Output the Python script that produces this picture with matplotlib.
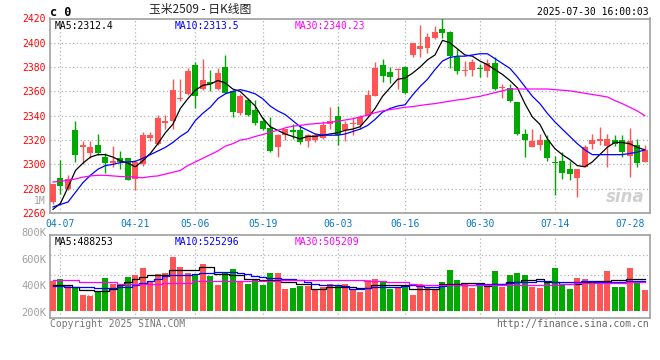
import numpy as np
import matplotlib
matplotlib.use('Agg')
import matplotlib.pyplot as plt

# daily candles 04-03 .. 07-30
opens = [2269, 2289, 2280, 2328, 2314, 2309, 2316, 2306, 2301, 2305,
         2305, 2288, 2300, 2322, 2317, 2334, 2336, 2354, 2358, 2382,
         2362, 2368, 2362, 2380, 2360, 2342, 2353, 2345, 2336, 2330,
         2314, 2324, 2328, 2328, 2319, 2320, 2322, 2333, 2340, 2328,
         2333, 2332, 2340, 2356, 2382, 2376, 2377.5, 2380, 2390, 2395,
         2396, 2404, 2411, 2409, 2388, 2377, 2378, 2379.5, 2377, 2383,
         2363, 2363, 2351, 2325, 2314, 2316, 2320, 2302, 2303, 2296,
         2289, 2298, 2317, 2319, 2315, 2320, 2320, 2307, 2316, 2302]
closes = [2284, 2282, 2288, 2308, 2316, 2314, 2309, 2301, 2303, 2302,
          2287, 2302, 2324, 2324, 2338, 2336, 2361, 2355, 2377, 2356,
          2369, 2366, 2375, 2359, 2343, 2356, 2341, 2334, 2329, 2311,
          2324, 2329, 2327, 2318, 2324, 2324, 2332, 2336, 2324, 2333,
          2334, 2339, 2357, 2379, 2373, 2372, 2378.5, 2359, 2400, 2397,
          2405, 2409, 2408, 2389, 2377, 2378, 2384, 2378.5, 2383, 2362,
          2364, 2352, 2325, 2320, 2319, 2320, 2305, 2301, 2293, 2292,
          2296, 2314, 2320, 2321, 2321, 2317, 2310, 2319, 2301, 2312]
highs = [2284, 2304, 2291, 2336, 2319, 2319, 2325, 2309, 2315, 2311,
         2305, 2303, 2327, 2327, 2341, 2341, 2370, 2370, 2379, 2384,
         2387, 2378, 2379, 2390, 2361, 2358, 2355, 2353, 2339, 2339,
         2325, 2329, 2333, 2332, 2325, 2326, 2336, 2347, 2348, 2336,
         2339, 2341, 2361, 2384, 2387, 2380, 2379, 2381, 2400, 2415,
         2408, 2414, 2420, 2410, 2395, 2385, 2387, 2382.5, 2387, 2388,
         2366, 2366, 2351, 2329, 2329, 2325, 2324, 2307, 2310, 2303,
         2296, 2316, 2325, 2331, 2325, 2324, 2324, 2330, 2321, 2316]
lows = [2267, 2276, 2279, 2302, 2300, 2305, 2308, 2293, 2298, 2296,
        2287, 2279, 2299, 2319, 2316, 2329, 2329, 2352, 2357, 2346,
        2361, 2360, 2361, 2359, 2339, 2341, 2340, 2332, 2328, 2310,
        2306, 2320, 2321, 2317, 2314, 2318, 2321, 2329, 2316, 2319,
        2324, 2329, 2340, 2356, 2368, 2367, 2362, 2358, 2388, 2388,
        2392, 2403, 2404, 2379, 2374, 2373, 2373, 2372, 2372, 2361,
        2355, 2351, 2324, 2306, 2314, 2312, 2303, 2275, 2288, 2287,
        2273, 2298, 2313, 2316, 2298, 2315, 2306, 2290, 2298, 2302]

# moving averages
ma5 = [2263, 2268, 2281, 2295, 2301, 2306, 2308, 2308, 2306, 2303,
       2301, 2298, 2303, 2309, 2317, 2326, 2333, 2346, 2354, 2361,
       2365, 2366, 2369, 2367, 2362, 2360, 2354, 2348, 2338, 2331,
       2328, 2325, 2323, 2321, 2323, 2323, 2324, 2325, 2326, 2328,
       2329, 2331, 2338, 2346, 2356, 2363, 2370, 2371, 2375, 2380,
       2386, 2390, 2402, 2400, 2395, 2390, 2389, 2385, 2382, 2378,
       2374, 2369, 2363, 2350, 2339, 2333, 2321, 2313, 2308, 2304,
       2299, 2298, 2302, 2308, 2314, 2318, 2318, 2317, 2314, 2312]
ma10 = [2265, 2267, 2269, 2277, 2285, 2291, 2296, 2299, 2300, 2301.5,
        2302, 2302.5, 2305, 2308, 2311, 2314, 2318, 2323, 2327, 2336,
        2342, 2347, 2354, 2358, 2360, 2361.5, 2360, 2358, 2354, 2348,
        2344, 2341, 2336, 2331, 2328, 2325, 2324, 2324, 2324, 2325,
        2327, 2329, 2332, 2337, 2343, 2346, 2348, 2349, 2357, 2364,
        2370, 2378, 2385, 2388, 2389, 2389, 2390, 2391, 2391, 2387,
        2383, 2379, 2372, 2364, 2356, 2350, 2342, 2335, 2329, 2323,
        2317, 2312, 2308, 2308, 2308, 2308, 2308, 2309, 2310, 2312]
ma30 = [2285.5, 2286, 2287, 2288, 2289.5, 2290.5, 2291, 2291, 2290.5, 2290,
        2290, 2289.5, 2289, 2290, 2290.5, 2292, 2293.5, 2295, 2299, 2302,
        2305, 2308, 2311, 2315, 2317, 2320, 2321, 2323, 2324.5, 2326.5,
        2328, 2330, 2331.5, 2332, 2333, 2333.5, 2334, 2334.5, 2335.5, 2336.5,
        2337.5, 2339, 2340.5, 2342.5, 2344, 2345, 2346, 2347, 2347.5, 2348.5,
        2349.3, 2350, 2351, 2352, 2353, 2353.7, 2355, 2356, 2357.5, 2359,
        2360.5, 2362, 2362, 2362, 2362, 2362, 2362, 2361.5, 2361, 2360.5,
        2359.5, 2358.5, 2357.5, 2356.5, 2355.5, 2352.5, 2350, 2347, 2344, 2340]

# volume (thousands)
volumes = [439, 452, 404, 389, 335, 329, 363, 463, 420, 404,
           470, 485, 537, 439, 492, 500, 620, 546, 500, 485,
           568, 478, 410, 507, 529, 434, 420, 454, 409, 502,
           502, 382, 389, 404, 404, 377, 395, 414, 407, 414,
           382, 357, 445, 452, 437, 382, 387, 407, 332, 419,
           387, 377, 432, 519, 445, 424, 387, 412, 402, 514,
           394, 482, 499, 482, 394, 387, 437, 537, 412, 379,
           462, 454, 439, 442, 514, 394, 394, 539, 432, 374]
vma5 = [407, 407, 407, 394, 369, 369, 362, 362, 382, 407,
        432, 457, 470, 487, 487, 487, 519, 519, 519, 519,
        544, 544, 494, 494, 482, 482, 457, 457, 444, 444,
        444, 432, 432, 419, 419, 382, 382, 394, 394, 394,
        394, 387, 387, 407, 407, 407, 407, 407, 382, 382,
        382, 382, 419, 419, 419, 427, 427, 427, 402, 419,
        419, 432, 432, 449, 449, 457, 432, 432, 419, 419,
        419, 432, 432, 437, 437, 444, 444, 452, 452, 457]
vma10 = [399, 399, 397, 394, 394, 394, 387, 387, 390, 394,
         394, 407, 425, 440, 457, 475, 482, 482, 488, 494,
         498, 502, 505, 507, 507, 500, 494, 475, 466, 462,
         462, 455, 452, 445, 432, 415, 407, 407, 407, 400,
         382, 382, 390, 394, 394, 394, 394, 405, 412, 405,
         394, 394, 402, 407, 407, 407, 410, 414, 414, 417,
         419, 422, 432, 432, 435, 437, 437, 432, 432, 432,
         435, 437, 437, 432, 432, 432, 435, 437, 437, 437]
vma30 = [444, 444, 444, 444, 432, 432, 432, 432, 432, 414,
         414, 414, 414, 414, 414, 427, 427, 427, 427, 437,
         437, 437, 437, 439, 439, 439, 439, 439, 439, 439,
         439, 444, 444, 449, 449, 449, 449, 449, 449, 449,
         449, 449, 439, 439, 439, 432, 432, 432, 419, 412,
         412, 412, 412, 407, 407, 407, 407, 407, 407, 407,
         412, 412, 412, 412, 412, 412, 412, 412, 419, 419,
         424, 424, 424, 424, 424, 424, 424, 432, 432, 432]

tick_idx = [1, 11, 19, 28, 38, 47, 57, 67, 77]
tick_lbl = ['04-07', '04-21', '05-06', '05-19', '06-03', '06-16', '06-30', '07-14', '07-28']
price_ticks = list(range(2260, 2421, 20))
vol_ticks = [200, 400, 600, 800]
vol_grid = [334, 484, 634]
vol_base = 215

UP = '#ff5555'
DOWN = '#00a800'
GRID = '#b4b4b4'
FRAME = '#a0a0a0'
MONO = 'DejaVu Sans Mono'

o = np.array(opens); c = np.array(closes)
h = np.array(highs); l = np.array(lows)
x = np.arange(len(o))
cols = [UP if cc >= oo else DOWN for oo, cc in zip(o, c)]

fig = plt.figure(figsize=(6.6, 3.6), dpi=100)
W, H = 660.0, 360.0
ax = fig.add_axes([50 / W, 1 - 213 / H, 599.5 / W, 194.5 / H])
axv = fig.add_axes([50 / W, 1 - 318 / H, 599.5 / W, 83.5 / H])

# price panel
ax.vlines(x, l, h, colors=cols, lw=1, zorder=3)
body = np.maximum(np.abs(c - o), 0.7)
ax.bar(x, body, bottom=np.minimum(o, c), width=0.8, color=cols, lw=0, zorder=4)
ax.plot(x, ma5, color='black', lw=0.9, zorder=5)
ax.plot(x, ma10, color='#0000ff', lw=0.9, zorder=5)
ax.plot(x, ma30, color='#ff00ff', lw=0.9, zorder=5)
ax.set_xlim(-0.4, 79.64)
ax.set_ylim(2260, 2420)
ax.set_yticks(price_ticks)
ax.set_yticklabels([str(t) for t in price_ticks], color='red', family=MONO, fontsize=7)
ax.set_xticks(tick_idx)
ax.set_xticklabels(tick_lbl, color='#0a78c8', family=MONO, fontsize=7)
ax.tick_params(length=0, pad=3)
ax.tick_params(axis='x', pad=4)
ax.grid(True, color=GRID, ls=(0, (1, 2)), lw=0.9)
ax.get_xgridlines()[-1].set_visible(False)
ax.text(-4 / 599.5, 2270, '1M', transform=ax.get_yaxis_transform(), ha='right',
        va='center', color='#a0a0a0', family=MONO, fontsize=7)
ax.text(0.008, 0.985, 'MA5:2312.4', transform=ax.transAxes, va='top',
        color='black', family=MONO, fontsize=7)
ax.text(0.208, 0.985, 'MA10:2313.5', transform=ax.transAxes, va='top',
        color='#0000ff', family=MONO, fontsize=7)
ax.text(0.408, 0.985, 'MA30:2340.23', transform=ax.transAxes, va='top',
        color='#ff00ff', family=MONO, fontsize=7)
ax.text(0.96, 0.08, 'sina', transform=ax.transAxes, ha='center', va='center',
        color='#d0d0d0', fontsize=12, style='italic', weight='bold', zorder=2)

# volume panel
v = np.array(volumes) * 1000
axv.bar(x, v - vol_base * 1000, bottom=vol_base * 1000, width=0.8, color=cols, lw=0, zorder=3)
axv.plot(x, np.array(vma5) * 1000, color='black', lw=0.9, drawstyle='steps-mid', zorder=4)
axv.plot(x, np.array(vma10) * 1000, color='#0000ff', lw=0.9, drawstyle='steps-mid', zorder=4)
axv.plot(x, np.array(vma30) * 1000, color='#ff00ff', lw=0.9, drawstyle='steps-mid', zorder=4)
axv.set_xlim(-0.4, 79.64)
axv.set_ylim(162e3, 788e3)
axv.set_yticks([])
axv.set_xticks(tick_idx[:-1])
axv.set_xticklabels([])
axv.tick_params(length=0)
axv.grid(True, axis='x', color=GRID, ls=(0, (1, 2)), lw=0.9)
for g in vol_grid:
    axv.axhline(g * 1000, color=GRID, ls=(0, (1, 2)), lw=0.9, zorder=1)
for t in vol_ticks:
    axv.text(-4 / 599.5, t * 1000, '%dK' % t, transform=axv.get_yaxis_transform(),
             ha='right', va='center', color='#a0a0a0', family=MONO, fontsize=7.5,
             clip_on=False)
axv.text(0.008, 0.97, 'MA5:488253', transform=axv.transAxes, va='top',
         color='black', family=MONO, fontsize=7)
axv.text(0.208, 0.97, 'MA10:525296', transform=axv.transAxes, va='top',
         color='#0000ff', family=MONO, fontsize=7)
axv.text(0.408, 0.97, 'MA30:505209', transform=axv.transAxes, va='top',
         color='#ff00ff', family=MONO, fontsize=7)

for a in (ax, axv):
    for s in a.spines.values():
        s.set_color(FRAME)
        s.set_linewidth(1.2)

# header / footer
fig.text(50 / W, 1 - 12 / H, 'c 0', ha='left', va='center', family=MONO,
         fontsize=8.5, weight='bold', color='black')
fig.text(200 / W, 1 - 10 / H, '玉米2509 - 日K线图', ha='center', va='center',
         family=['Noto Sans CJK SC', 'DejaVu Sans'], fontsize=8.5, color='#222222')
fig.text(649 / W, 1 - 12 / H, '2025-07-30 16:00:03', ha='right', va='center',
         family=MONO, fontsize=7, color='black')
fig.text(50 / W, 1 - 324 / H, 'Copyright 2025 SINA.COM', ha='left', va='center',
         family=MONO, fontsize=7, color='#777777')
fig.text(649 / W, 1 - 324 / H, 'http://finance.sina.com.cn', ha='right', va='center',
         family=MONO, fontsize=7, color='#666666')

fig.savefig('out.png', dpi=100)
